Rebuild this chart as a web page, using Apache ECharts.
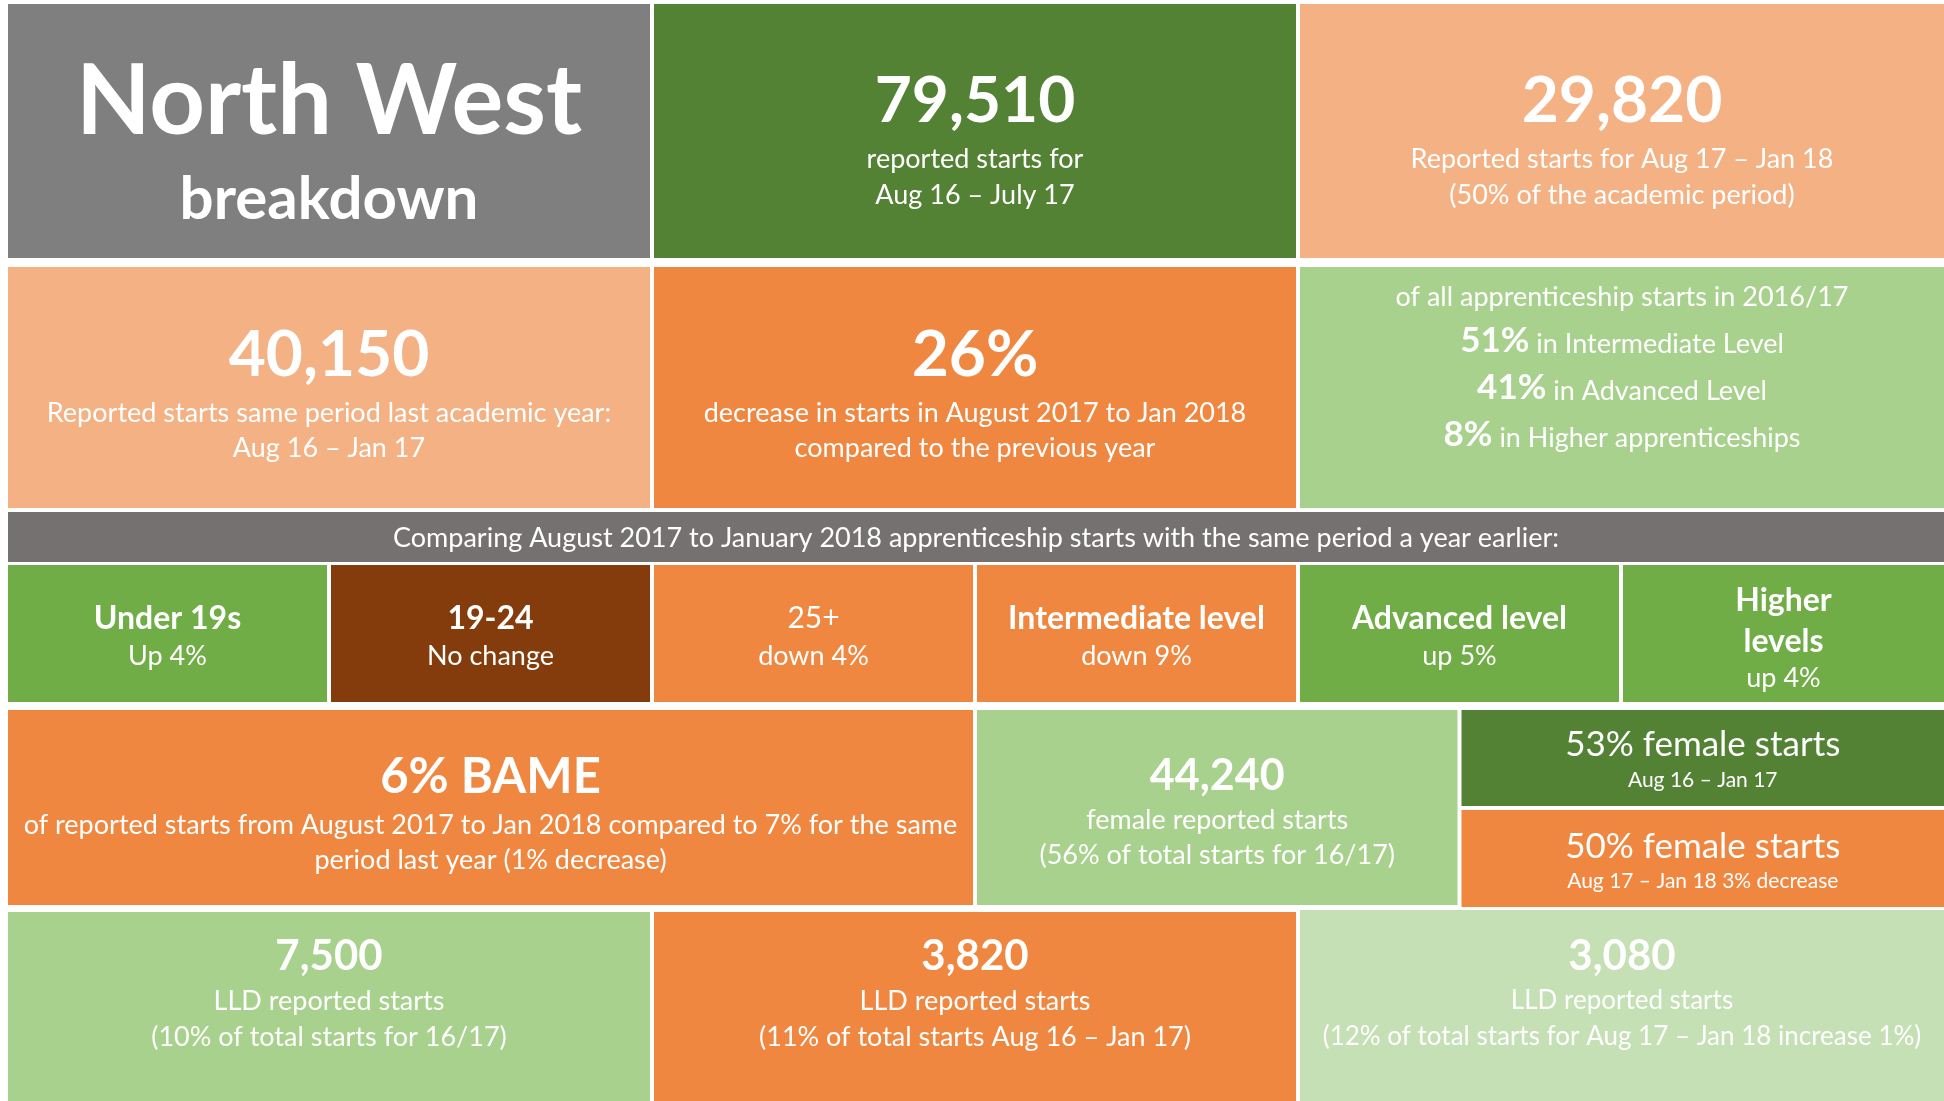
<!DOCTYPE html>
<html>
<head>
<meta charset="utf-8">
<script src="https://cdn.jsdelivr.net/npm/echarts@6/dist/echarts.min.js"></script>
<style>html,body{margin:0;padding:0;background:#fff}#board{width:1944px;height:1101px}</style>
</head>
<body>
<div id="board"></div>
<script>
// figures shown on the board
var region = ['North West', 'breakdown'];
var totals = ['79,510', '29,820', '40,150'];
var totalNotes = [
	['reported starts for', 'Aug 16 – July 17'],
	['Reported starts for Aug 17 – Jan 18', '(50% of the academic period)'],
	['Reported starts same period last academic year:', 'Aug 16 – Jan 17']
];
var decline = '26%';
var declineNotes = ['decrease in starts in August 2017 to Jan 2018', 'compared to the previous year'];
var levelIntro = 'of all apprenticeship starts in 2016/17';
var levelShares = ['51%', '41%', '8%'];
var levelNames = ['in Intermediate Level', 'in Advanced Level', 'in Higher apprenticeships'];
var bannerText = 'Comparing August 2017 to January 2018 apprenticeship starts with the same period a year earlier:';
var groups = ['Under 19s', '19-24', '25+', 'Intermediate level', 'Advanced level', 'Higher\nlevels'];
var groupChanges = ['Up 4%', 'No change', 'down 4%', 'down 9%', 'up 5%', 'up 4%'];
var bame = '6% BAME';
var bameNotes = ['of reported starts from August 2017 to Jan 2018 compared to 7% for the same', 'period last year (1% decrease)'];
var female = '44,240';
var femaleNotes = ['female reported starts', '(56% of total starts for 16/17)'];
var femaleShares = ['53% female starts', '50% female starts'];
var femalePeriods = ['Aug 16 – Jan 17', 'Aug 17 – Jan 18 3% decrease'];
var lldStarts = ['7,500', '3,820', '3,080'];
var lldNotes = [
	['LLD reported starts', '(10% of total starts for 16/17)'],
	['LLD reported starts', '(11% of total starts Aug 16 – Jan 17)'],
	['LLD reported starts', '(12% of total starts for Aug 17 – Jan 18 increase 1%)']
];

var FONT = 'Lato';
var GREY = '#7f7f7f', DKGREEN = '#548235', PEACH = '#f4b183', ORANGE = '#ef8740',
	LTGREEN = '#a9d18e', GREEN = '#70ad47', BROWN = '#843c0c', BANNER = '#767171', PALE = '#c5e0b4';

function st(size, weight, lh, va) {
	return {fontFamily: FONT, fontSize: size, fontWeight: weight, lineHeight: lh, fill: '#fff', verticalAlign: va || 'middle'};
}
function lines(tag, arr) {
	return arr.map(function (s) { return '{' + tag + '|' + s + '}'; }).join('\n');
}

var tiles = [];
// row 1
tiles.push({x: [0, 4], y: [4, 258], fill: GREY, dy: 14,
	text: '{a|' + region[0] + '}\n{b|' + region[1] + '}',
	rich: {a: st(97, 'bold', 110), b: st(60, 'bold', 84)}});
tiles.push({x: [4, 8], y: [4, 258], fill: DKGREEN, dy: 6,
	text: '{h|' + totals[0] + '}\n' + lines('n', totalNotes[0]),
	rich: {h: st(64, 'bold', 81), n: st(27, 'normal', 36)}});
tiles.push({x: [8, 12], y: [4, 258], fill: PEACH, dy: 6,
	text: '{h|' + totals[1] + '}\n' + lines('n', totalNotes[1]),
	rich: {h: st(64, 'bold', 81), n: st(27, 'normal', 36)}});
// row 2
tiles.push({x: [0, 4], y: [267, 508], fill: PEACH, dy: 3,
	text: '{h|' + totals[2] + '}\n' + lines('n', totalNotes[2]),
	rich: {h: st(64, 'bold', 81), n: st(27, 'normal', 35)}});
tiles.push({x: [4, 8], y: [267, 508], fill: ORANGE, dy: 3,
	text: '{h|' + decline + '}\n' + lines('n', declineNotes),
	rich: {h: st(64, 'bold', 81), n: st(27, 'normal', 35)}});
tiles.push({x: [8, 12], y: [267, 508], fill: LTGREEN, dy: -28,
	text: '{i|' + levelIntro + '}\n' + levelShares.map(function (s, k) {
		return '{p|' + s + '}{n| ' + levelNames[k] + '}';
	}).join('\n'),
	rich: {i: st(27, 'normal', 44, 'bottom'), p: st(35, 'bold', 47, 'bottom'), n: st(27, 'normal', 47, 'bottom')}});
// banner
tiles.push({x: [0, 12], y: [512, 562], fill: BANNER, dy: 1,
	text: '{n|' + bannerText + '}', rich: {n: st(27, 'normal', 40)}});
// row 4: change by group
var groupFills = [GREEN, BROWN, ORANGE, ORANGE, GREEN, GREEN];
groups.forEach(function (g, k) {
	var parts = g.split('\n');
	var tall = parts.length > 1;
	tiles.push({x: [k * 2, k * 2 + 2], y: [565, 702], fill: groupFills[k], dy: 4,
		text: lines('g', parts) + '\n{n|' + groupChanges[k] + '}',
		rich: {g: st(k === 2 ? 30 : 32, k === 2 ? 'normal' : 'bold', tall ? 41 : 38), n: st(27, 'normal', tall ? 33 : 38)}});
});
// row 5
tiles.push({x: [0, 6], y: [710, 905], fill: ORANGE, dy: 5,
	text: '{h|' + bame + '}\n' + lines('n', bameNotes),
	rich: {h: st(49, 'bold', 60), n: st(27, 'normal', 35)}});
tiles.push({x: [6, 9], y: [710, 905], fill: LTGREEN, dy: 4,
	text: '{h|' + female + '}\n' + lines('n', femaleNotes),
	rich: {h: st(43, 'bold', 53), n: st(27, 'normal', 35)}});
tiles.push({x: [9, 12], y: [710, 806], fill: DKGREEN, dy: 2,
	text: '{h|' + femaleShares[0] + '}\n{s|' + femalePeriods[0] + '}',
	rich: {h: st(35, 'normal', 40), s: st(21, 'normal', 30)}});
tiles.push({x: [9, 12], y: [810, 907], fill: ORANGE, dy: 3,
	text: '{h|' + femaleShares[1] + '}\n{s|' + femalePeriods[1] + '}',
	rich: {h: st(35, 'normal', 40), s: st(21, 'normal', 30)}});
// row 6: LLD
var lldFills = [LTGREEN, ORANGE, PALE];
lldStarts.forEach(function (v, k) {
	tiles.push({x: [k * 4, k * 4 + 4], y: [k === 2 ? 910 : 912, 1101], fill: lldFills[k], dy: k === 2 ? -13 : -14,
		text: '{h|' + v + '}\n' + lines('n', lldNotes[k]),
		rich: {h: st(42, 'bold', 53), n: st(k === 2 ? 26 : 27, 'normal', 36)}});
});

var chart = echarts.init(document.getElementById('board'));
chart.setOption({
	animation: false,
	backgroundColor: '#fff',
	grid: {left: 6, right: 0, top: 0, bottom: 0},
	xAxis: {type: 'value', min: 0, max: 12, show: false},
	yAxis: {type: 'value', min: 0, max: 1101, inverse: true, show: false},
	series: [{
		type: 'custom',
		coordinateSystem: 'cartesian2d',
		encode: {x: [0, 1], y: [2, 3]},
		data: tiles.map(function (t, i) { return [t.x[0], t.x[1], t.y[0], t.y[1], i]; }),
		renderItem: function (params, api) {
			var t = tiles[api.value(4)];
			var p0 = api.coord([api.value(0), api.value(2)]);
			var p1 = api.coord([api.value(1), api.value(3)]);
			var x0 = p0[0] + 2;
			var x1 = api.value(1) >= 12 ? p1[0] : p1[0] - 2;
			var y0 = p0[1], y1 = p1[1];
			return {
				type: 'group',
				children: [
					{type: 'rect', shape: {x: x0, y: y0, width: x1 - x0, height: y1 - y0}, style: {fill: t.fill}},
					{type: 'text', x: (x0 + x1) / 2, y: (y0 + y1) / 2 + t.dy,
						style: {text: t.text, rich: t.rich, fill: '#fff', align: 'center', verticalAlign: 'middle',
							fontFamily: FONT, fontSize: 24}}
				]
			};
		}
	}]
});
</script>
</body>
</html>
